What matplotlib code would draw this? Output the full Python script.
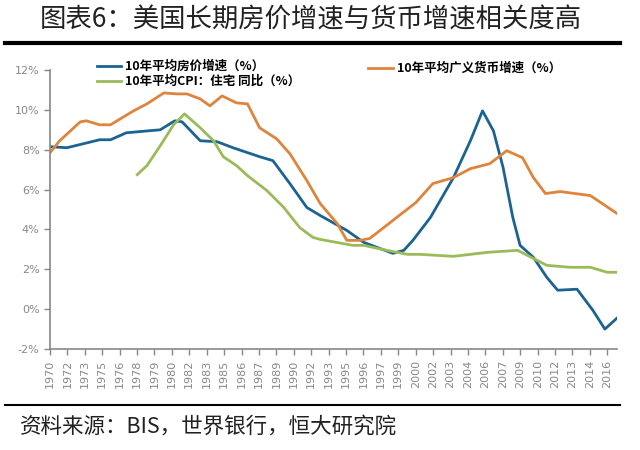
import numpy as np
import matplotlib.pyplot as plt
from matplotlib.lines import Line2D

plt.rcParams['font.family'] = ['Noto Sans CJK SC', 'DejaVu Sans']

# 10年平均房价增速
house_x = [1970, 1971.4, 1974.1, 1975, 1976.3, 1979.1, 1980.3, 1980.9, 1982.4, 1983.8,
           1985.1, 1987.3, 1988.4, 1989.8, 1991.2, 1992.3, 1994.5, 1995.9, 1998.3, 1999.2,
           1999.95, 2001.4, 2003.3, 2004.7, 2005.7, 2006.6, 2007.4, 2008.2, 2008.8, 2009.9,
           2011, 2011.9, 2013.5, 2014.8, 2015.8, 2016.8]
house_y = [8.15, 8.1, 8.5, 8.5, 8.85, 9.0, 9.45, 9.4, 8.45, 8.4,
           8.1, 7.65, 7.45, 6.3, 5.1, 4.7, 3.95, 3.35, 2.8, 2.95,
           3.45, 4.6, 6.6, 8.45, 9.95, 8.95, 7.1, 4.6, 3.2, 2.6,
           1.6, 0.95, 1.0, -0.05, -1.0, -0.45]

# 10年平均广义货币增速
m2_x = [1970, 1970.8, 1972.5, 1973, 1974.1, 1975, 1975.8, 1976.9, 1978, 1979.4,
        1980.5, 1981.3, 1982.4, 1983.2, 1984.2, 1985.4, 1986.3, 1987.3, 1988.7, 1989.8,
        1991.2, 1992.3, 1993.7, 1994.5, 1995.6, 1996.4, 1998.3, 2000.2, 2001.6, 2003.3,
        2004.7, 2006.3, 2007.7, 2009, 2009.9, 2010.9, 2012.1, 2014.6, 2016.8]
m2_y = [7.85, 8.45, 9.4, 9.45, 9.25, 9.25, 9.55, 9.95, 10.3, 10.85,
        10.8, 10.8, 10.55, 10.2, 10.7, 10.35, 10.3, 9.1, 8.55, 7.8,
        6.45, 5.3, 4.3, 3.45, 3.45, 3.55, 4.45, 5.35, 6.3, 6.6,
        7.05, 7.3, 7.95, 7.6, 6.6, 5.8, 5.9, 5.7, 4.8]

# 10年平均CPI：住宅 同比
cpi_x = [1977.2, 1978, 1979.1, 1980.2, 1981.1, 1982.4, 1983.5, 1984.3, 1985.4, 1986.3,
         1987.9, 1989.3, 1990.6, 1991.7, 1992.3, 1995, 1995.9, 1997.8, 1999.5, 2000.5,
         2003.3, 2006.1, 2008.6, 2009.4, 2011, 2012.9, 2014.6, 2016, 2016.8]
cpi_y = [6.75, 7.2, 8.2, 9.25, 9.8, 9.1, 8.45, 7.65, 7.2, 6.7,
         5.95, 5.1, 4.1, 3.6, 3.5, 3.2, 3.2, 2.95, 2.75, 2.75,
         2.65, 2.85, 2.95, 2.7, 2.2, 2.1, 2.1, 1.85, 1.85]

year_labels = ['1970', '1972', '1973', '1975', '1976', '1978', '1979', '1980', '1982',
               '1983', '1985', '1986', '1987', '1989', '1990', '1992', '1993', '1995',
               '1996', '1997', '1999', '2000', '2002', '2003', '2004', '2006', '2007',
               '2009', '2010', '2012', '2013', '2014', '2016']
y_ticks = [-2, 0, 2, 4, 6, 8, 10, 12]

c_house = '#1b6390'
c_m2 = '#e0843c'
c_cpi = '#9bbb59'

fig = plt.figure(figsize=(6.4, 4.5), dpi=100)
ax = fig.add_axes([50/640, 1-349/450, 567/640, 279/450])

ax.plot(house_x, house_y, color=c_house, lw=2)
ax.plot(m2_x, m2_y, color=c_m2, lw=2)
ax.plot(cpi_x, cpi_y, color=c_cpi, lw=2)

ax.set_xlim(1970, 2016.8)
ax.set_ylim(-2, 12)
tick_pos = 1970 + np.arange(len(year_labels)) * 46 / 32
ax.set_xticks(tick_pos)
ax.set_xticklabels(year_labels, rotation=90, fontsize=8, color='#444444', family='DejaVu Sans')
ax.set_yticks(y_ticks)
ax.set_yticklabels(['%d%%' % v for v in y_ticks], fontsize=8, color='#444444', family='DejaVu Sans')
for s in ['top', 'right']:
    ax.spines[s].set_visible(False)
for s in ['left', 'bottom']:
    ax.spines[s].set_color('#888888')
    ax.spines[s].set_linewidth(1.2)
ax.tick_params(colors='#888888', length=4, width=1)

# legends
fig.add_artist(Line2D([97/640, 121/640], [1-66/450, 1-66/450], color=c_house, lw=2))
fig.add_artist(Line2D([97/640, 121/640], [1-81/450, 1-81/450], color=c_cpi, lw=2))
fig.add_artist(Line2D([368/640, 393/640], [1-68/450, 1-68/450], color=c_m2, lw=2))
fig.text(125/640, 1-66/450, '10年平均房价增速（%）', fontsize=9, fontweight='bold', va='center')
fig.text(125/640, 1-81/450, '10年平均CPI：住宅 同比（%）', fontsize=9, fontweight='bold', va='center')
fig.text(397/640, 1-68/450, '10年平均广义货币增速（%）', fontsize=9, fontweight='bold', va='center')

# title and source
fig.text(0.485, 1-20/450, '图表6：美国长期房价增速与货币增速相关度高', fontsize=19,
         fontweight='light', ha='center', va='center', color='#222222')
fig.add_artist(Line2D([5/640, 620/640], [1-43/450, 1-43/450], color='black', lw=3))
fig.add_artist(Line2D([5/640, 620/640], [1-405/450, 1-405/450], color='black', lw=1.5))
fig.text(20/640, 1-427/450, '资料来源：BIS，世界银行，恒大研究院', fontsize=15.5,
         fontweight='light', style='italic', va='center', color='#222222')

fig.savefig('out.png', dpi=100)
